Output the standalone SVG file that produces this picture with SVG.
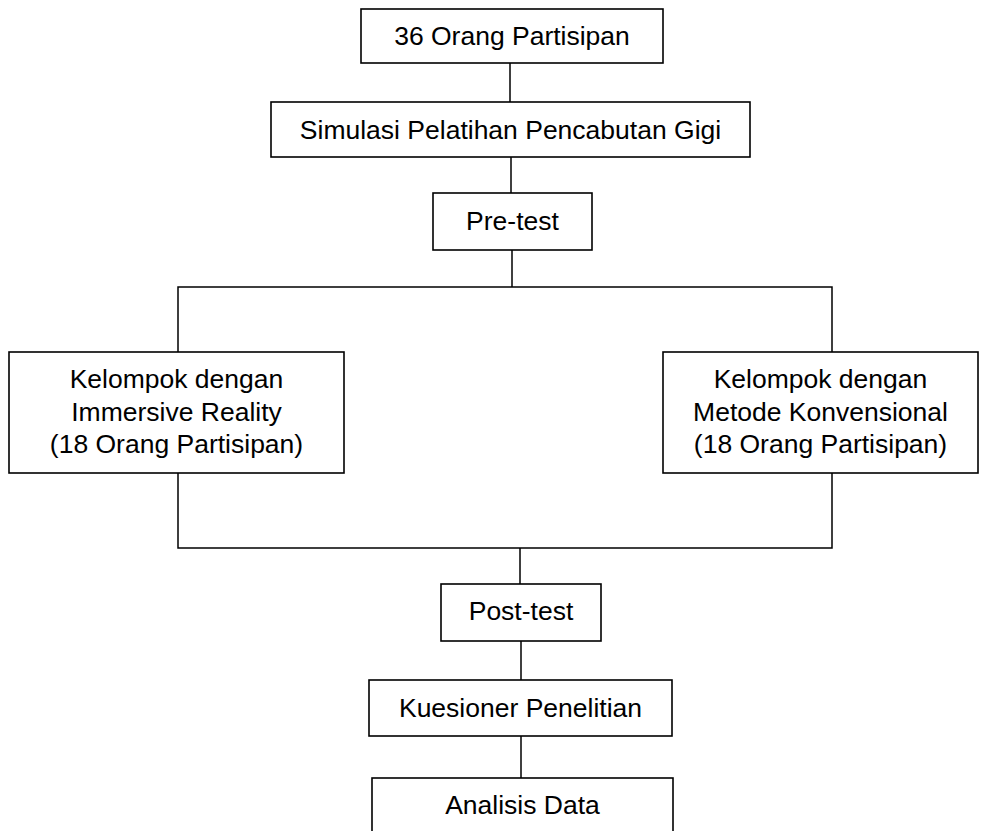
<svg xmlns="http://www.w3.org/2000/svg" width="989" height="831" viewBox="0 0 989 831">
<style>
.box{fill:#fff;stroke:#000;stroke-width:1.6}
.ln{fill:none;stroke:#000;stroke-width:1.5}
text{font-family:"Liberation Sans",Arial,sans-serif;font-size:26.5px;fill:#000;text-anchor:middle}
</style>
<rect width="989" height="831" fill="#fff"/>
<g id="connectors">
<line class="ln" x1="510" y1="63" x2="510" y2="102"/>
<line class="ln" x1="511" y1="157" x2="511" y2="193"/>
<line class="ln" x1="512" y1="250" x2="512" y2="287"/>
<polyline class="ln" points="178,352 178,287 832,287 832,352"/>
<polyline class="ln" points="178,473 178,548 832,548 832,473"/>
<line class="ln" x1="520" y1="548" x2="520" y2="584"/>
<line class="ln" x1="521" y1="641" x2="521" y2="680"/>
<line class="ln" x1="521" y1="736" x2="521" y2="778"/>
</g>
<g id="n1"><rect class="box" x="361" y="9" width="302" height="54"/><text x="512" y="45">36 Orang Partisipan</text></g>
<g id="n2"><rect class="box" x="271" y="102" width="479" height="55"/><text x="510.5" y="138.5">Simulasi Pelatihan Pencabutan Gigi</text></g>
<g id="n3"><rect class="box" x="433" y="193" width="159" height="57"/><text x="512.5" y="229.5">Pre-test</text></g>
<g id="n4"><rect class="box" x="9" y="352" width="335" height="121"/><text x="176.5" y="388">Kelompok dengan</text><text x="176.5" y="420.5">Immersive Reality</text><text x="176.5" y="453">(18 Orang Partisipan)</text></g>
<g id="n5"><rect class="box" x="663" y="352" width="315" height="121"/><text x="820.5" y="388">Kelompok dengan</text><text x="820.5" y="420.5">Metode Konvensional</text><text x="820.5" y="453">(18 Orang Partisipan)</text></g>
<g id="n6"><rect class="box" x="441" y="584" width="160" height="57"/><text x="521" y="620">Post-test</text></g>
<g id="n7"><rect class="box" x="369" y="680" width="303" height="56"/><text x="520.5" y="716.5">Kuesioner Penelitian</text></g>
<g id="n8"><rect class="box" x="372" y="778" width="301" height="70"/><text x="522.5" y="814">Analisis Data</text></g>
</svg>
